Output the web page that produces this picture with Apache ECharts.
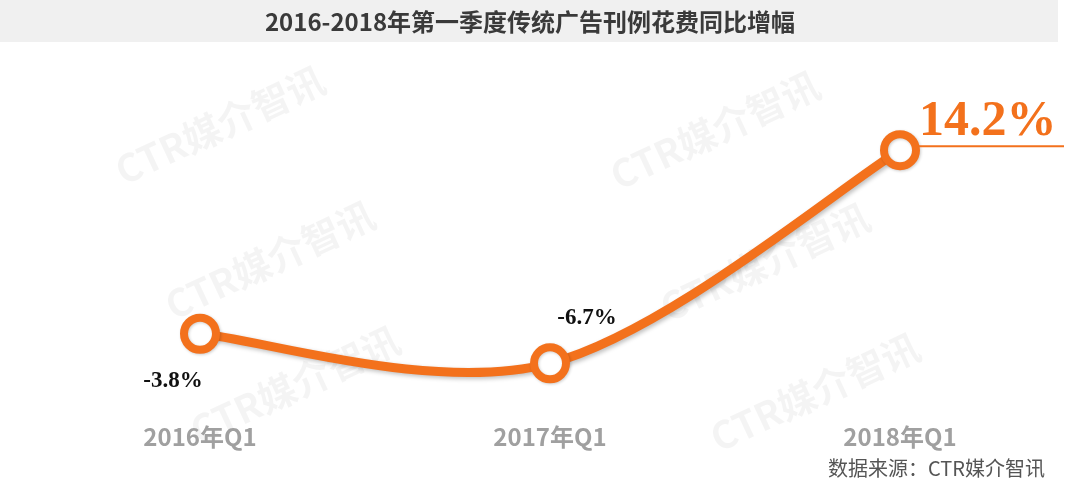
<!DOCTYPE html>
<html><head><meta charset="utf-8">
<script src="https://cdn.jsdelivr.net/npm/echarts@6/dist/echarts.min.js"></script>
<style>html,body{margin:0;padding:0;background:#fff}#c{width:1080px;height:496px}</style>
</head><body><div id="c"></div>
<script>
const titleText = '2016-2018年第一季度传统广告刊例花费同比增幅';
const categories = ['2016年Q1', '2017年Q1', '2018年Q1'];
const values = [-3.8, -6.7, 14.2];
const valueLabels = ['-3.8%', '-6.7%', '14.2%'];
const sourceText = '数据来源：CTR媒介智讯';
const watermarkText = 'CTR媒介智讯';

const ORANGE = '#F3711C';
const chart = echarts.init(document.getElementById('c'));

const wmPos = [[220,125],[715,130],[270,260],[765,262],[295,385],[815,392]];
const watermarks = wmPos.map(p => ({
  type: 'text', x: p[0], y: p[1], rotation: 25 * Math.PI / 180, z: 0,
  style: { text: watermarkText, fill: 'rgba(0,0,0,0.045)', font: 'bold 38px "Noto Sans CJK SC"', align: 'center', verticalAlign: 'middle' }
}));

const serif = '"Liberation Serif", "Times New Roman", serif';
const labelCfg = [
  { show: true, position: 'bottom', offset: [-27, 11], formatter: valueLabels[0],
    fontFamily: serif, fontWeight: 'bold', fontSize: 23, color: '#111' },
  { show: true, position: 'top', offset: [37, -9], formatter: valueLabels[1],
    fontFamily: serif, fontWeight: 'bold', fontSize: 23, color: '#111' },
  { show: true, position: 'right', offset: [-6, -27], formatter: '{v|' + valueLabels[2] + '}\n{u|}',
    rich: {
      v: { fontFamily: serif, fontWeight: 'bold', fontSize: 50, color: ORANGE, lineHeight: 46 },
      u: { width: 145, height: 2, backgroundColor: ORANGE, lineHeight: 2 }
    } }
];

// Catmull-Rom style smoothed curve (Excel-like) through the data points, via the axis scales
function renderCurve(params, api) {
  if (params.dataIndex !== 0) return null;
  const pts = values.map((v, i) => api.coord([i, v]));
  let d = 'M' + pts[0][0] + ' ' + pts[0][1];
  for (let i = 0; i < pts.length - 1; i++) {
    const p0 = pts[Math.max(i - 1, 0)], p1 = pts[i], p2 = pts[i + 1], p3 = pts[Math.min(i + 2, pts.length - 1)];
    const c1 = [p1[0] + (p2[0] - p0[0]) / 6, p1[1] + (p2[1] - p0[1]) / 6];
    const c2 = [p2[0] - (p3[0] - p1[0]) / 6, p2[1] - (p3[1] - p1[1]) / 6];
    d += ' C' + c1[0] + ' ' + c1[1] + ' ' + c2[0] + ' ' + c2[1] + ' ' + p2[0] + ' ' + p2[1];
  }
  return {
    type: 'path',
    shape: { pathData: d },
    style: { fill: null, stroke: ORANGE, lineWidth: 9, lineCap: 'round',
      shadowColor: 'rgba(0,0,0,0.25)', shadowBlur: 4, shadowOffsetX: 2, shadowOffsetY: 2 }
  };
}

chart.setOption({
  animation: false,
  backgroundColor: '#fff',
  graphic: [
    { type: 'rect', shape: { x: 0, y: 0, width: 1058, height: 42 }, style: { fill: '#f0f0f0' }, z: 0 },
    { type: 'text', x: 530, y: 22, z: 1, style: { text: titleText, fill: '#3a3a3a', font: 'bold 24px "Noto Sans CJK SC"', align: 'center', verticalAlign: 'middle' } },
    { type: 'text', x: 1045, y: 468, z: 1, style: { text: sourceText, fill: '#555', font: '20px "Noto Sans CJK SC"', align: 'right', verticalAlign: 'middle' } }
  ].concat(watermarks),
  grid: { left: 200, right: 180, top: 91, bottom: 99 },
  xAxis: {
    type: 'category', data: categories, boundaryGap: false,
    axisLine: { show: false }, axisTick: { show: false }, splitLine: { show: false },
    axisLabel: { margin: 28, color: '#a0a0a0', fontSize: 24, fontWeight: 'bold', fontFamily: '"Noto Sans CJK SC"' }
  },
  yAxis: {
    type: 'value', min: -10, max: 20, show: false, splitLine: { show: false }
  },
  series: [{
    type: 'custom', z: 4, silent: true,
    data: values.map((v, i) => [i, v]),
    renderItem: renderCurve
  }, {
    type: 'line', z: 5,
    data: values.map((v, i) => ({ value: v, label: labelCfg[i] })),
    symbol: 'circle', symbolSize: 32,
    itemStyle: { color: '#fff', borderColor: ORANGE, borderWidth: 8,
      shadowColor: 'rgba(0,0,0,0.2)', shadowBlur: 3, shadowOffsetX: 1, shadowOffsetY: 1 },
    lineStyle: { width: 0, opacity: 0 }
  }]
});
</script></body></html>
